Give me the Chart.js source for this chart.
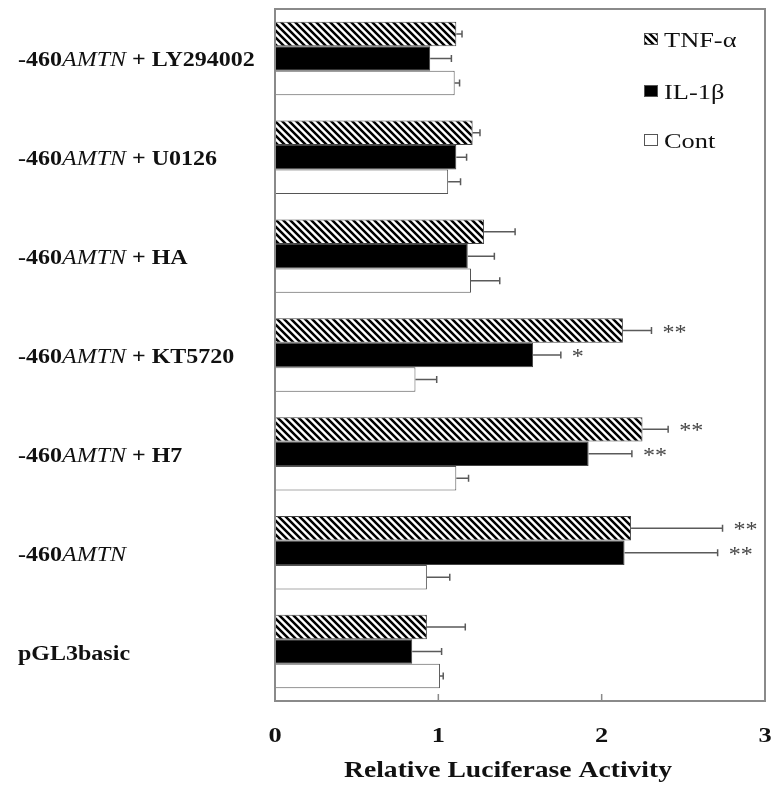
<!DOCTYPE html>
<html>
<head>
<meta charset="utf-8">
<script src="https://cdn.jsdelivr.net/npm/chart.js@4"></script>
<style>
  html, body { margin: 0; padding: 0; background: #fff; }
  #wrap { width: 772px; height: 787px; }
</style>
</head>
<body>
<div id="wrap"><canvas id="c" width="772" height="787"></canvas></div>
<script>
// Constructs, top to bottom
const categories = ['-460AMTN + LY294002', '-460AMTN + U0126', '-460AMTN + HA', '-460AMTN + KT5720', '-460AMTN + H7', '-460AMTN', 'pGL3basic'];
const seriesNames = ['TNF-α', 'IL-1β', 'Cont'];

// Relative luciferase activity (mean) and SD
const tnfValues  = [1.11, 1.21, 1.28, 2.13, 2.25, 2.18, 0.93];
const tnfErrors  = [0.035, 0.045, 0.19, 0.175, 0.157, 0.56, 0.235];
const il1Values  = [0.95, 1.11, 1.18, 1.58, 1.92, 2.14, 0.84];
const il1Errors  = [0.13, 0.063, 0.163, 0.17, 0.265, 0.57, 0.18];
const contValues = [1.10, 1.06, 1.20, 0.86, 1.11, 0.93, 1.01];
const contErrors = [0.03, 0.076, 0.176, 0.13, 0.075, 0.14, 0.02];

// Significance marks
const tnfMarks  = ['', '', '', '**', '**', '**', ''];
const il1Marks  = ['', '', '', '*', '**', '**', ''];
const contMarks = ['', '', '', '', '', '', ''];

const xTicks = [0, 1, 2, 3];
const xTitle = 'Relative Luciferase Activity';

const SERIF = '"Liberation Serif", "Times New Roman", serif';
const STRETCH = 1.2; // wide serif lettering

function hatchPattern() {
  const s = 7;
  const c = document.createElement('canvas');
  c.width = s; c.height = s;
  const g = c.getContext('2d');
  g.fillStyle = '#fff';
  g.fillRect(0, 0, s, s);
  g.strokeStyle = '#000';
  g.lineWidth = 2.5;
  g.beginPath();
  g.moveTo(-1, -1); g.lineTo(s + 1, s + 1);
  g.moveTo(-1, s - 1); g.lineTo(1, s + 1);
  g.moveTo(s - 1, -1); g.lineTo(s + 1, 1);
  g.stroke();
  return g.createPattern(c, 'repeat');
}

// text drawn with horizontal widening; returns advance width
function wideText(g, text, x, y, font, align, baseline) {
  g.save();
  g.font = font;
  g.textAlign = align || 'left';
  g.textBaseline = baseline || 'alphabetic';
  g.translate(x, y);
  g.scale(STRETCH, 1);
  g.fillText(text, 0, 0);
  const w = g.measureText(text).width * STRETCH;
  g.restore();
  return w;
}

const ctx = document.getElementById('c').getContext('2d');
const hatch = hatchPattern();

const errorSets = [tnfErrors, il1Errors, contErrors];
const markSets = [tnfMarks, il1Marks, contMarks];

const decorations = {
  id: 'decorations',
  afterDatasetsDraw(chart) {
    const g = chart.ctx;
    const xs = chart.scales.x;
    const ys = chart.scales.y;
    const area = chart.chartArea;

    // error bars and significance marks
    chart.data.datasets.forEach((ds, i) => {
      const meta = chart.getDatasetMeta(i);
      meta.data.forEach((bar, j) => {
        const v = ds.data[j];
        const e = errorSets[i][j];
        const x0 = xs.getPixelForValue(v);
        const x1 = xs.getPixelForValue(v + e);
        const y = bar.y;
        g.save();
        g.strokeStyle = '#5a5a5a';
        g.lineWidth = 1.5;
        g.beginPath();
        g.moveTo(x0, y); g.lineTo(x1, y);
        g.moveTo(x1, y - 3.5); g.lineTo(x1, y + 3.5);
        g.stroke();
        g.restore();
        const m = markSets[i][j];
        if (m) {
          g.fillStyle = '#444';
          for (let k = 0; k < m.length; k++) {
            wideText(g, '*', x1 + 11 + k * 12, y + 8, '20px ' + SERIF);
          }
        }
      });
    });

    // plot frame
    g.save();
    g.strokeStyle = '#8a8a8a';
    g.lineWidth = 2;
    g.strokeRect(area.left, area.top, area.right - area.left, area.bottom - area.top);
    // inward ticks on the value axis
    g.lineWidth = 1.5;
    xTicks.slice(1, -1).forEach(t => {
      const px = xs.getPixelForValue(t);
      g.beginPath();
      g.moveTo(px, area.bottom);
      g.lineTo(px, area.bottom - 7);
      g.stroke();
    });
    g.restore();

    // value axis tick labels and title
    g.fillStyle = '#111';
    xTicks.forEach(t => {
      wideText(g, String(t), xs.getPixelForValue(t), 742, 'bold 22px ' + SERIF, 'center');
    });
    wideText(g, xTitle, 508, 777, 'bold 23px ' + SERIF, 'center');

    // category labels, gene name in italics
    categories.forEach((lab, j) => {
      const y = ys.getPixelForValue(j) + 8;
      let x = 18;
      const parts = lab.split(/(AMTN)/).filter(p => p.length);
      g.fillStyle = '#111';
      parts.forEach(p => {
        const f = (p === 'AMTN' ? 'italic 20px ' : 'bold 20px ') + SERIF;
        x += wideText(g, p, x, y, f);
      });
    });

    // legend
    const fills = chart.data.datasets.map(d => d.backgroundColor);
    const legendY = [39, 91, 140];
    seriesNames.forEach((name, i) => {
      const y = legendY[i];
      g.save();
      g.fillStyle = fills[i];
      g.fillRect(644, y - 6, 14, 12);
      g.strokeStyle = '#555';
      g.lineWidth = 1;
      g.strokeRect(644.5, y - 5.5, 13, 11);
      g.restore();
      g.fillStyle = '#111';
      wideText(g, name, 664, y + 8, '22px ' + SERIF);
    });
  }
};

new Chart(ctx, {
  type: 'bar',
  data: {
    labels: categories,
    datasets: [
      { label: seriesNames[0], data: tnfValues, backgroundColor: hatch, borderColor: '#444', borderWidth: 1 },
      { label: seriesNames[1], data: il1Values, backgroundColor: '#000', borderColor: '#444', borderWidth: 1 },
      { label: seriesNames[2], data: contValues, backgroundColor: '#fff', borderColor: '#555', borderWidth: 1 }
    ]
  },
  options: {
    indexAxis: 'y',
    responsive: false,
    animation: false,
    events: [],
    layout: { padding: { left: 275, top: 9, right: 7, bottom: 0 } },
    datasets: { bar: { categoryPercentage: 0.743, barPercentage: 1.0 } },
    plugins: { legend: { display: false }, tooltip: { enabled: false } },
    scales: {
      y: { display: false, offset: true },
      x: {
        min: 0, max: 3,
        afterBuildTicks(scale) { scale.ticks = xTicks.map(v => ({ value: v })); },
        afterFit(scale) {
          scale.height = 86;
          scale.paddingLeft = 0;
          scale.paddingRight = 0;
        },
        grid: { display: false, drawTicks: false },
        border: { display: false },
        ticks: { display: false },
        title: { display: false }
      }
    }
  },
  plugins: [decorations]
});
</script>
</body>
</html>
